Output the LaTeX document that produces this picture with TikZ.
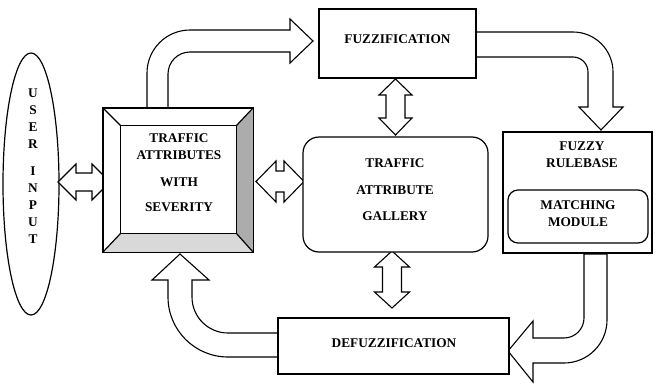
\documentclass[tikz,border=0pt]{standalone}
\usepackage{fontspec}
\setmainfont{Liberation Serif}
\usetikzlibrary{shapes.geometric,calc}
\begin{document}
\begin{tikzpicture}[x=1pt,y=1pt,line join=miter,
  lbl/.style={font=\fontsize{13.3}{17}\selectfont\bfseries, align=center, inner sep=0pt},
  blk/.style={draw=black, line width=1.2pt, fill=white, inner sep=0pt},
  fat/.style={draw=black, line width=1.1pt, fill=white}]
\useasboundingbox (0,0) rectangle (656,-383);

% user input ellipse
\node[ellipse, blk, minimum width=56, minimum height=262] (user) at (31,-184) {};
\node[lbl] (usert) at (33,-166) {U\\S\\E\\R\\[10.4pt]I\\N\\P\\U\\T};

% block arrows
\draw[fat] (147,-108) -- (147,-73) arc[start angle=180,end angle=90,radius=43]
  -- (290,-30) -- (290,-19) -- (313,-41) -- (290,-63) -- (290,-52) -- (190,-52)
  arc[start angle=90,end angle=180,radius=22] -- (168,-108) -- cycle;
\draw[fat] (476,-32) -- (573,-32) arc[start angle=90,end angle=0,radius=40]
  -- (613,-107) -- (623,-107) -- (601,-130) -- (579,-107) -- (588,-107) -- (588,-72)
  arc[start angle=0,end angle=90,radius=15] -- (476,-57) -- cycle;
\draw[fat] (607,-254) -- (607,-320) arc[start angle=0,end angle=-90,radius=43]
  -- (533,-363) -- (533,-382) -- (508,-351) -- (533,-321) -- (533,-338) -- (564,-338)
  arc[start angle=-90,end angle=0,radius=20] -- (584,-254) -- cycle;
\draw[fat] (278,-357) -- (228,-357) arc[start angle=-90,end angle=-180,radius=60]
  -- (168,-280) -- (152,-280) -- (180,-254) -- (209,-280) -- (192,-280) -- (192,-297)
  arc[start angle=180,end angle=270,radius=36] -- (278,-333) -- cycle;

% double arrows
\draw[fat] (58,-182) -- (76,-164) -- (76,-173) -- (92,-173) -- (92,-164) -- (110,-182)
  -- (92,-200) -- (92,-191) -- (76,-191) -- (76,-200) -- cycle;
\draw[fat] (256,-181.5) -- (276,-161) -- (276,-171) -- (284,-171) -- (284,-161) -- (304,-181.5)
  -- (284,-202) -- (284,-192) -- (276,-192) -- (276,-202) -- cycle;
\draw[fat] (395.5,-79) -- (412,-95) -- (405,-95) -- (405,-118) -- (412,-118) -- (395.5,-135)
  -- (379,-118) -- (386,-118) -- (386,-95) -- (379,-95) -- cycle;
\draw[fat] (392,-251) -- (409.5,-267) -- (401.5,-267) -- (401.5,-292) -- (409.5,-292) -- (392,-308)
  -- (374.5,-292) -- (382.5,-292) -- (382.5,-267) -- (374.5,-267) -- cycle;

% traffic attributes bevel box
\node[minimum width=150, minimum height=144, inner sep=0pt] (tab) at (178,-180) {};
\coordinate (ia) at ($(tab.north west)+(18,-18)$);
\coordinate (ib) at ($(tab.north east)+(-17,-18)$);
\coordinate (ic) at ($(tab.south east)+(-17,19)$);
\coordinate (id) at ($(tab.south west)+(18,19)$);
\fill[white] (tab.north west) rectangle (tab.south east);
\fill[gray!65] (tab.north east) -- (tab.south east) -- (ic) -- (ib) -- cycle;
\fill[gray!30] (tab.south west) -- (tab.south east) -- (ic) -- (id) -- cycle;
\draw[line width=1.4pt] (tab.north west) rectangle (tab.south east);
\draw[line width=1.2pt] (ia) -- (ib) -- (ic) -- (id) -- cycle;
\draw[line width=1.2pt] (tab.north west) -- (ia) (tab.north east) -- (ib)
  (tab.south east) -- (ic) (tab.south west) -- (id);
\node[lbl] (tabt) at (179,-172.5) {TRAFFIC\\ATTRIBUTES\\[10pt]WITH\\[8pt]SEVERITY};

% fuzzification
\node[blk, minimum width=157, minimum height=69] (fuzz) at (397.5,-43.5) {};
\node[lbl] (fuzzt) at (397.5,-39) {FUZZIFICATION};

% gallery
\node[blk, rounded corners=16pt, minimum width=185, minimum height=115] (gal) at (395.5,-194.5) {};
\node[lbl] (galt) at (395,-189.5) {TRAFFIC\\[10pt]ATTRIBUTE\\[9pt]GALLERY};

% fuzzy rulebase
\node[blk, minimum width=149, minimum height=121] (rb) at (577.5,-192.5) {};
\node[lbl] (rbt) at (582,-154.5) {FUZZY\\RULEBASE};
\node[blk, rounded corners=10pt, minimum width=140, minimum height=53] (mm) at (578,-216.5) {};
\node[lbl] (mmt) at (578,-214) {MATCHING\\MODULE};

% defuzzification
\node[blk, minimum width=231, minimum height=56] (defuzz) at (393.5,-346) {};
\node[lbl] (defuzzt) at (394,-343) {DEFUZZIFICATION};
\end{tikzpicture}
\end{document}
